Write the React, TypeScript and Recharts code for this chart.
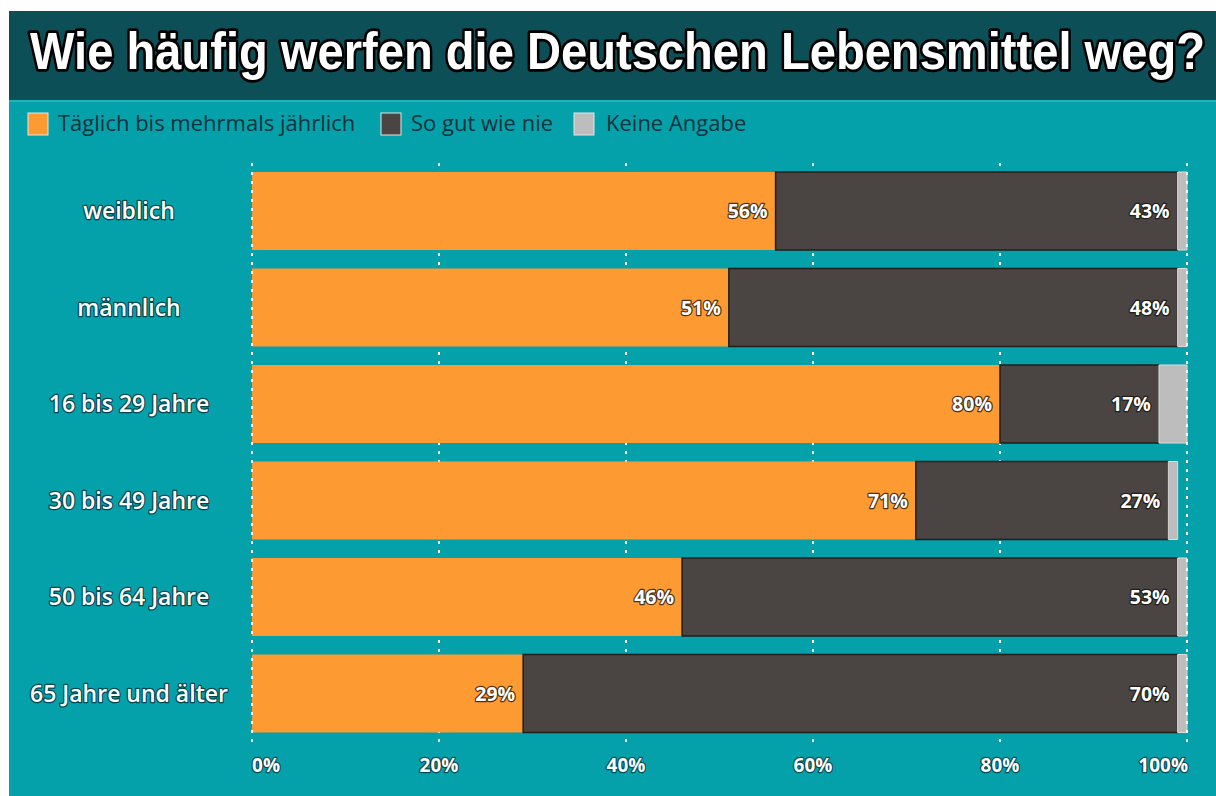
import React from 'react';
import {
  BarChart, Bar, XAxis, YAxis, CartesianGrid, LabelList, ReferenceLine
} from 'recharts';

// Werte (in %)
const categories = ['weiblich', 'männlich', '16 bis 29 Jahre', '30 bis 49 Jahre', '50 bis 64 Jahre', '65 Jahre und älter'];
const haeufig = [56, 51, 80, 71, 46, 29];
const soGutWieNie = [43, 48, 17, 27, 53, 70];
const keineAngabe = [1, 1, 3, 1, 1, 1];
const xTicks = [0, 20, 40, 60, 80, 100];
const seriesNames = ['Täglich bis mehrmals jährlich', 'So gut wie nie', 'Keine Angabe'];

const ORANGE = '#fd9a32';
const DARK = '#4a4542';
const GREY = '#bdbdbd';
const TEAL = '#05a1ab';
const TITLE_BG = '#0c4f56';

const data = categories.map((name, i) => ({
  name,
  haeufig: haeufig[i],
  nie: soGutWieNie[i],
  keine: keineAngabe[i],
}));

const CategoryTick = (props: any) => {
  const { y, payload } = props;
  return (
    <text
      x={120}
      y={y}
      dy={8}
      textAnchor="middle"
      fontFamily="'Open Sans', sans-serif"
      fontWeight={600}
      fontSize={23}
      fill="#ffffff"
      stroke="rgba(0,40,48,0.75)"
      strokeWidth={2.5}
      strokeLinejoin="round"
      paintOrder="stroke"
    >
      {payload.value}
    </text>
  );
};

const PercentTick = (props: any) => {
  const { x, y, payload, index } = props;
  let anchor: 'start' | 'middle' | 'end' = 'middle';
  let dx = 0;
  if (index === 0) anchor = 'start';
  if (index === xTicks.length - 1) { anchor = 'end'; dx = 1; }
  return (
    <text
      x={x + dx}
      y={y}
      dy={22}
      textAnchor={anchor}
      fontFamily="'Open Sans', sans-serif"
      fontWeight={700}
      fontSize={19}
      fill="#ffffff"
      stroke="rgba(0,40,48,0.7)"
      strokeWidth={2.5}
      strokeLinejoin="round"
      paintOrder="stroke"
    >
      {payload.value}%
    </text>
  );
};

const ValueLabel = (props: any) => {
  const { x, y, width, height, value } = props;
  return (
    <text
      x={x + width - 8}
      y={y + height / 2}
      dy={7}
      textAnchor="end"
      fontFamily="'Open Sans', sans-serif"
      fontWeight={700}
      fontSize={19.5}
      fill="#ffffff"
      stroke="rgba(20,15,10,0.75)"
      strokeWidth={2.5}
      strokeLinejoin="round"
      paintOrder="stroke"
    >
      {value}%
    </text>
  );
};

const legendItems = [
  { label: seriesNames[0], color: ORANGE, boxX: 19, textX: 49 },
  { label: seriesNames[1], color: DARK, boxX: 372, textX: 402 },
  { label: seriesNames[2], color: GREY, boxX: 565, textX: 597 },
];

export default function App() {
  return (
    <div style={{ position: 'absolute', left: 0, top: 0, width: 1216, height: 796, background: '#ffffff', overflow: 'hidden' }}>
      <div style={{ position: 'absolute', left: 9, top: 11, width: 1207, height: 785, background: TEAL }}>
        {/* Titelband */}
        <div style={{ position: 'absolute', left: 0, top: 0, width: 1207, height: 89, background: TITLE_BG, borderBottom: '2px solid #1fb3bd' }} />

        <div style={{ position: 'absolute', left: 0, top: 0 }}>
          <BarChart
            width={1207}
            height={785}
            data={data}
            layout="vertical"
            margin={{ top: 152, right: 29, bottom: 0, left: 0 }}
            barSize={78}
          >
            <CartesianGrid horizontal={false} stroke="#ffffff" strokeDasharray="3 6" strokeWidth={2} />
            <XAxis
              type="number"
              domain={[0, 100]}
              ticks={xTicks}
              axisLine={false}
              tickLine={false}
              height={54}
              tick={<PercentTick />}
              interval={0}
            />
            <YAxis
              type="category"
              dataKey="name"
              width={243}
              axisLine={false}
              tickLine={false}
              tick={<CategoryTick />}
            />
            <Bar dataKey="haeufig" stackId="a" fill={ORANGE} isAnimationActive={false}>
              <LabelList dataKey="haeufig" content={<ValueLabel />} />
            </Bar>
            <Bar dataKey="nie" stackId="a" fill={DARK} stroke="#221e1b" strokeWidth={1.5} isAnimationActive={false}>
              <LabelList dataKey="nie" content={<ValueLabel />} />
            </Bar>
            <Bar dataKey="keine" stackId="a" fill={GREY} stroke="#dcdcdc" strokeWidth={1} isAnimationActive={false} />
            <ReferenceLine x={0} stroke="#ffffff" strokeDasharray="3 6" strokeWidth={2} />
            <ReferenceLine x={100} stroke="#ffffff" strokeDasharray="3 6" strokeWidth={2} />
          </BarChart>
        </div>

        {/* Titel und Legende */}
        <svg width={1207} height={150} style={{ position: 'absolute', left: 0, top: 0, pointerEvents: 'none' }}>
          <text
            transform="translate(21,58) scale(1,1.1)"
            x={0}
            y={0}
            textLength={1175}
            lengthAdjust="spacingAndGlyphs"
            fontFamily="'Liberation Sans', Arial, sans-serif"
            fontWeight={700}
            fontSize={47}
            fill="#ffffff"
            stroke="#000000"
            strokeWidth={5}
            strokeLinejoin="round"
            paintOrder="stroke"
          >
            Wie häufig werfen die Deutschen Lebensmittel weg?
          </text>
          {legendItems.map((item) => (
            <g key={item.label}>
              <rect x={item.boxX} y={102} width={20} height={22} fill={item.color} stroke="#e6e6e6" strokeWidth={1} />
              <text
                x={item.textX}
                y={120}
                fontFamily="'Open Sans', sans-serif"
                fontSize={22}
                fill="#10323b"
              >
                {item.label}
              </text>
            </g>
          ))}
        </svg>
      </div>
    </div>
  );
}
